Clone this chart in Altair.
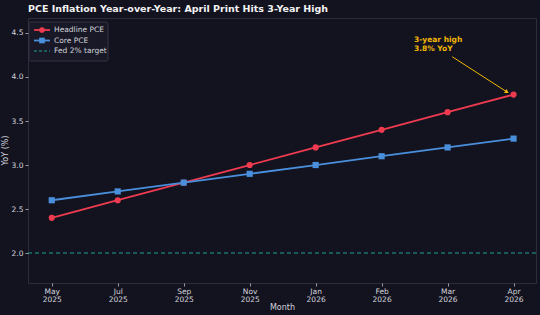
import altair as alt
import pandas as pd

# Monthly PCE readings (YoY %)
months = ["May 2025", "Jul 2025", "Sep 2025", "Nov 2025",
          "Jan 2026", "Feb 2026", "Mar 2026", "Apr 2026"]
headline = [2.4, 2.6, 2.8, 3.0, 3.2, 3.4, 3.6, 3.8]
core = [2.6, 2.7, 2.8, 2.9, 3.0, 3.1, 3.2, 3.3]
fed_target = 2.0

legend_labels = ["Headline PCE", "Core PCE", "Fed 2% target"]

RED = "#ee3b4f"
BLUE = "#4a8fdc"
TEAL = "#23a091"
GOLD = "#f2b705"
BG = "#131320"
TXT = "#d4d4dc"
FONT = "DejaVu Sans"

df = pd.DataFrame({
    "idx": list(range(len(months))) * 2,
    "month": months * 2,
    "value": headline + core,
    "series": ["Headline PCE"] * len(months) + ["Core PCE"] * len(months),
})

months_js = "[" + ",".join(f"'{m}'" for m in months) + "]"

x_scale = alt.Scale(domain=[-0.36, 7.34], nice=False, zero=False)
y_scale = alt.Scale(domain=[1.66, 4.67], nice=False, zero=False)

x_enc = alt.X(
    "idx:Q", scale=x_scale, title="Month",
    axis=alt.Axis(values=list(range(len(months))),
                  labelExpr=f"split({months_js}[datum.value], ' ')",
                  labelLineHeight=8, labelPadding=1, titlePadding=1),
)
y_enc = alt.Y(
    "value:Q", scale=y_scale, title="YoY (%)",
    axis=alt.Axis(values=[2.0, 2.5, 3.0, 3.5, 4.0, 4.5], format=".1f",
                  titleX=-19, titleY=132),
)

color_scale = alt.Scale(domain=["Headline PCE", "Core PCE"], range=[RED, BLUE])
shape_scale = alt.Scale(domain=["Headline PCE", "Core PCE"], range=["circle", "square"])

lines = alt.Chart(df).mark_line(strokeWidth=1.8).encode(
    x=x_enc, y=y_enc,
    color=alt.Color("series:N", scale=color_scale, legend=None),
    detail="series:N",
)
points = alt.Chart(df).mark_point(filled=True, opacity=1, size=38).encode(
    x="idx:Q", y="value:Q",
    color=alt.Color("series:N", scale=color_scale, legend=None),
    shape=alt.Shape("series:N", scale=shape_scale, legend=None),
)

target = alt.Chart(pd.DataFrame({"y": [fed_target]})).mark_rule(
    color=TEAL, strokeDash=[4, 3], strokeWidth=1.1
).encode(y="y:Q")

# Annotation for the latest headline print
note = pd.DataFrame({
    "tx": [5.49], "ty": [4.47],
    "ax": [6.07], "ay": [4.23],
    "hx": [6.9], "hy": [3.83],
    "text": ["3-year high\n3.8% YoY"],
})
note_text = alt.Chart(note).mark_text(
    align="left", baseline="top", lineBreak="\n", color=GOLD,
    fontWeight="bold", fontSize=7.5, font=FONT, lineHeight=9,
).encode(x="tx:Q", y="ty:Q", text="text:N")
note_line = alt.Chart(note).mark_rule(color=GOLD, strokeWidth=1).encode(
    x="ax:Q", y="ay:Q", x2="hx:Q", y2="hy:Q"
)
note_head = alt.Chart(note).mark_point(
    shape="triangle-right", filled=True, color=GOLD, opacity=1, size=22, angle=31
).encode(x="hx:Q", y="hy:Q")

# Legend box drawn in the upper-left corner of the plot
one = pd.DataFrame({"k": [0]})
legend_layers = [
    alt.Chart(one).mark_rect(fill="#181826", stroke="#3a3a4a", strokeWidth=0.8,
                             cornerRadius=2).encode(
        x=alt.value(1), x2=alt.value(80), y=alt.value(4), y2=alt.value(43)),
]
legend_style = [(RED, "circle", None), (BLUE, "square", None), (TEAL, None, [3, 2])]
for i, (lab, (col, shp, dash)) in enumerate(zip(legend_labels, legend_style)):
    yy = 12 + i * 10.5
    rule_kwargs = dict(color=col, strokeWidth=1.8 if dash is None else 1.1)
    if dash is not None:
        rule_kwargs["strokeDash"] = dash
    legend_layers.append(
        alt.Chart(one).mark_rule(**rule_kwargs).encode(
            x=alt.value(6), x2=alt.value(22), y=alt.value(yy)))
    if shp is not None:
        legend_layers.append(
            alt.Chart(one).mark_point(shape=shp, filled=True, color=col,
                                      opacity=1, size=32).encode(
                x=alt.value(14), y=alt.value(yy)))
    legend_layers.append(
        alt.Chart(one).mark_text(align="left", baseline="middle", color=TXT,
                                 fontSize=7.5, font=FONT).encode(
            x=alt.value(26), y=alt.value(yy), text=alt.value(lab)))

chart = alt.layer(
    target, lines, points, note_line, note_head, note_text, *legend_layers
).properties(
    width=508, height=265,
    padding={"left": 28, "top": 18, "right": 4, "bottom": 32},
    autosize=alt.AutoSizeParams(type="none"),
    background=BG,
    title=alt.Title("PCE Inflation Year-over-Year: April Print Hits 3-Year High",
                    anchor="start", frame="group", fontSize=9.5, fontWeight="bold",
                    color="#f2f2f2", font=FONT, offset=5),
).configure_view(
    stroke="#2c2c3c", strokeWidth=1, fill=BG,
).configure_axis(
    domain=False, grid=False, tickColor="#9a9aa6", tickSize=3,
    labelColor=TXT, titleColor=TXT, labelFont=FONT, titleFont=FONT,
    labelFontSize=7.5, titleFontSize=8, titleFontWeight="normal", labelPadding=2,
)

chart.save("out.html", embed_options={"renderer": "svg", "actions": False})
